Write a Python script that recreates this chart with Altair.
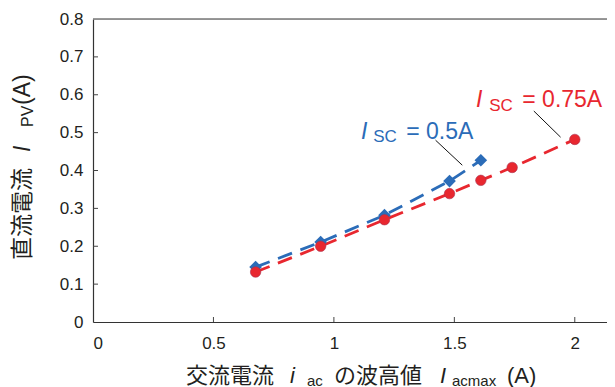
import altair as alt
import pandas as pd

# ---- data ----
x_sc05 = [0.675, 0.945, 1.21, 1.48, 1.61]
y_sc05 = [0.145, 0.211, 0.282, 0.372, 0.427]
x_sc075 = [0.675, 0.945, 1.21, 1.48, 1.61, 1.74, 2.0]
y_sc075 = [0.132, 0.200, 0.270, 0.339, 0.374, 0.408, 0.482]
x_tick_values = [0, 0.5, 1, 1.5, 2]
y_tick_values = [0, 0.1, 0.2, 0.3, 0.4, 0.5, 0.6, 0.7, 0.8]

BLUE = "#2b6cb8"
RED = "#e8272f"
INK = "#231f20"
LATIN = "Liberation Sans"
CJK = "Noto Sans CJK JP"

W, H = 514, 303
xs = alt.Scale(domain=[0, 2.1337], nice=False, zero=True)
ys = alt.Scale(domain=[0, 0.8], nice=False)

df05 = pd.DataFrame({"x": x_sc05, "y": y_sc05})
df075 = pd.DataFrame({"x": x_sc075, "y": y_sc075})

x_axis = alt.Axis(values=x_tick_values, format="~g", title=None, grid=False, ticks=False,
                  domainColor="#333333", domainWidth=1.2, labelFont=LATIN, labelFontSize=17,
                  labelColor=INK, labelPadding=13)
y_axis = alt.Axis(values=y_tick_values, format="~g", title=None, grid=False, ticks=False,
                  domainColor="#333333", domainWidth=1.2, labelFont=LATIN, labelFontSize=17,
                  labelColor=INK, labelPadding=10)


def X(field):
    return alt.X(field, scale=xs, axis=x_axis)


def Y(field):
    return alt.Y(field, scale=ys, axis=y_axis)


dash = [15, 9]
line05 = alt.Chart(df05).mark_line(color=BLUE, strokeWidth=2.8, strokeDash=dash).encode(
    x=X("x:Q"), y=Y("y:Q"))
line075 = alt.Chart(df075).mark_line(color=RED, strokeWidth=2.8, strokeDash=dash).encode(
    x=X("x:Q"), y=Y("y:Q"))
pts05 = alt.Chart(df05).mark_point(shape="diamond", filled=True, size=160, color=BLUE, opacity=1).encode(
    x=X("x:Q"), y=Y("y:Q"))
pts075 = alt.Chart(df075).mark_circle(size=110, color=RED, opacity=1, stroke="#a8304e", strokeWidth=0.6).encode(
    x=X("x:Q"), y=Y("y:Q"))

one = pd.DataFrame({"k": [0]})

# top frame line (the right side is cut off in the reference)
top_line = alt.Chart(one).mark_rule(color="#777777", strokeWidth=1.5).encode(
    x=alt.value(0), x2=alt.value(W), y=alt.value(0))

# inward tick marks
xt = pd.DataFrame({"v": x_tick_values[1:]})
yt = pd.DataFrame({"v": y_tick_values[1:-1]})
xticks = alt.Chart(xt).mark_rule(color="#444444", strokeWidth=1).encode(
    x=X("v:Q"), y=alt.value(H), y2=alt.value(H - 5))
yticks = alt.Chart(yt).mark_rule(color="#444444", strokeWidth=1).encode(
    y=Y("v:Q"), x=alt.value(0), x2=alt.value(5))

# leader lines (data coordinates)
leaders = pd.DataFrame({
    "x": [1.422, 1.830], "y": [0.480, 0.557],
    "x2": [1.533, 1.941], "y2": [0.414, 0.488],
})
leader = alt.Chart(leaders).mark_rule(color="#111111", strokeWidth=1).encode(
    x=X("x:Q"), y=Y("y:Q"), x2="x2:Q", y2="y2:Q")

# annotation pieces: text, x, y (data), font size, style, colour
ann_pieces = [
    ("I", 1.112, 0.484, 23, "italic", BLUE),
    ("SC", 1.163, 0.475, 17, "normal", BLUE),
    ("= 0.5A", 1.300, 0.484, 23, "normal", BLUE),
    ("I", 1.590, 0.567, 23, "italic", RED),
    ("SC", 1.645, 0.558, 17, "normal", RED),
    ("= 0.75A", 1.782, 0.567, 23, "normal", RED),
]
ann_layers = []
for t, ax, ay, fs, st, col in ann_pieces:
    d = pd.DataFrame({"x": [ax], "y": [ay], "t": [t]})
    ann_layers.append(alt.Chart(d).mark_text(
        align="left", baseline="alphabetic", font=LATIN, fontSize=fs, fontStyle=st, color=col
    ).encode(x=X("x:Q"), y=Y("y:Q"), text="t:N"))

# axis titles with subscripts (pixel positions relative to plot area)
x_title_pieces = [
    ("交流電流", 93, 364, 22, "normal", CJK),
    ("i", 197, 363.5, 22, "italic", LATIN),
    ("ac", 214, 366.5, 15, "normal", LATIN),
    ("の波高値", 241, 364, 22, "normal", CJK),
    ("I", 347, 363.5, 22, "italic", LATIN),
    ("acmax", 359, 366.5, 15, "normal", LATIN),
    ("(A)", 414, 363.5, 22, "normal", LATIN),
]
y_title_pieces = [
    ("直流電流", -63, 241, 23, "normal", CJK),
    ("I", -63, 133, 23, "italic", LATIN),
    ("PV", -60, 108, 16, "normal", LATIN),
    ("(A)", -63, 86, 23, "normal", LATIN),
]
title_layers = []
for t, px, py, fs, st, fnt in x_title_pieces:
    title_layers.append(alt.Chart(one).mark_text(
        align="left", baseline="alphabetic", font=fnt, fontSize=fs, fontStyle=st, color=INK, text=t
    ).encode(x=alt.value(px), y=alt.value(py)))
for t, px, py, fs, st, fnt in y_title_pieces:
    title_layers.append(alt.Chart(one).mark_text(
        align="left", baseline="alphabetic", angle=270, font=fnt, fontSize=fs, fontStyle=st,
        color=INK, text=t
    ).encode(x=alt.value(px), y=alt.value(py)))

chart = alt.layer(
    line05, line075, pts05, pts075, top_line, xticks, yticks, leader, *ann_layers, *title_layers
).properties(
    width=W, height=H,
    autosize=alt.AutoSizeParams(type="none"),
    padding={"left": 85, "top": 11, "right": 0, "bottom": 70},
).configure_view(stroke=None).configure(background="white")

chart.save("out.html", embed_options={"renderer": "svg", "actions": False})
